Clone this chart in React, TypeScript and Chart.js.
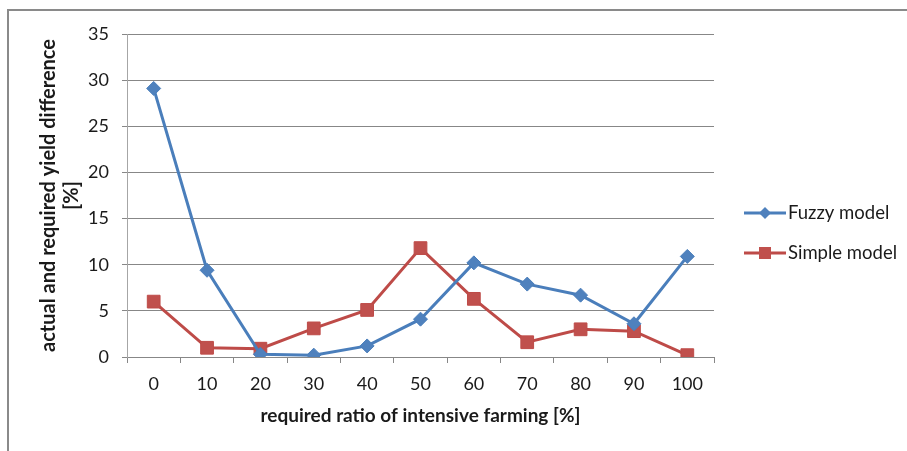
import { useEffect, useRef } from "react";
import { Chart, registerables } from "chart.js";

Chart.register(...registerables);

const categories = ["0", "10", "20", "30", "40", "50", "60", "70", "80", "90", "100"];
const fuzzyModel = [29.1, 9.4, 0.3, 0.2, 1.2, 4.1, 10.2, 7.9, 6.7, 3.6, 10.9];
const simpleModel = [6.0, 1.0, 0.9, 3.1, 5.1, 11.8, 6.3, 1.6, 3.0, 2.8, 0.2];
const seriesNames = ["Fuzzy model", "Simple model"];
const yMin = 0;
const yMax = 35;
const yStep = 5;
const xTitle = "required ratio of intensive farming [%]";
const yTitle = ["actual and required yield difference", "[%]"];

const BLUE_LINE = "#4A7EBB";
const BLUE_FILL = "#4F81BD";
const RED_LINE = "#BE4B48";
const RED_FILL = "#C0504D";
const GRID = "#878787";
const FONT = "Lato, 'Open Sans', sans-serif";

const legendPlugin = {
  id: "sideLegend",
  afterDraw(chart: any) {
    const { ctx, chartArea } = chart;
    const x0 = chartArea.right + 30;
    const items = chart.data.datasets;
    ctx.save();
    items.forEach((ds: any, i: number) => {
      const y = 213 + i * 40;
      ctx.strokeStyle = ds.borderColor;
      ctx.lineWidth = 3;
      ctx.beginPath();
      ctx.moveTo(x0, y);
      ctx.lineTo(x0 + 42, y);
      ctx.stroke();
      ctx.fillStyle = ds.pointBackgroundColor;
      const cx = x0 + 21;
      if (ds.pointStyle === "rectRot") {
        const r = 6;
        ctx.beginPath();
        ctx.moveTo(cx - r, y);
        ctx.lineTo(cx, y - r);
        ctx.lineTo(cx + r, y);
        ctx.lineTo(cx, y + r);
        ctx.closePath();
        ctx.fill();
      } else {
        const s = 12;
        ctx.fillRect(cx - s / 2, y - s / 2, s, s);
      }
      ctx.fillStyle = "#1a1a1a";
      ctx.font = `18.5px ${FONT}`;
      ctx.textBaseline = "middle";
      ctx.textAlign = "left";
      ctx.fillText(ds.label, x0 + 44, y);
    });
    ctx.restore();
  },
};

export default function App() {
  const ref = useRef<HTMLCanvasElement | null>(null);

  useEffect(() => {
    if (!ref.current) return;
    const chart = new Chart(ref.current, {
      type: "line",
      data: {
        labels: categories,
        datasets: [
          {
            label: seriesNames[0],
            data: fuzzyModel,
            borderColor: BLUE_LINE,
            backgroundColor: BLUE_FILL,
            pointBackgroundColor: BLUE_FILL,
            pointBorderColor: BLUE_LINE,
            pointBorderWidth: 1,
            pointStyle: "rectRot",
            pointRadius: 7,
            borderWidth: 3,
            tension: 0,
          },
          {
            label: seriesNames[1],
            data: simpleModel,
            borderColor: RED_LINE,
            backgroundColor: RED_FILL,
            pointBackgroundColor: RED_FILL,
            pointBorderColor: RED_LINE,
            pointBorderWidth: 1,
            pointStyle: "rect",
            pointRadius: 9,
            borderWidth: 3,
            tension: 0,
          },
        ] as any,
      },
      options: {
        responsive: false,
        animation: false,
        layout: { padding: { top: 34, right: 193, left: 0, bottom: 0 } },
        plugins: {
          legend: { display: false },
          tooltip: { enabled: false },
        },
        scales: {
          x: {
            offset: true,
            grid: {
              display: true,
              drawOnChartArea: false,
              drawTicks: true,
              tickLength: 6,
              offset: true,
              color: GRID,
            },
            border: { display: true, color: GRID },
            ticks: { color: "#1a1a1a", font: { family: FONT, size: 18 }, padding: 10, maxRotation: 0 },
            title: {
              display: true,
              text: xTitle,
              color: "#1a1a1a",
              font: { family: FONT, size: 19, weight: "bold" },
              padding: { top: 0, bottom: 24 },
            },
            afterFit(scale: any) {
              scale.height = 94;
            },
          },
          y: {
            min: yMin,
            max: yMax,
            ticks: {
              stepSize: yStep,
              color: "#1a1a1a",
              font: { family: FONT, size: 18 },
              padding: 13,
            },
            grid: { color: GRID, tickLength: 5, drawTicks: true },
            border: { display: true, color: "#a6a6a6" },
            title: {
              display: true,
              text: yTitle,
              color: "#1a1a1a",
              font: { family: FONT, size: 20, weight: "bold", lineHeight: "23px" },
              padding: { top: 37, bottom: 0 },
            },
            afterFit(scale: any) {
              scale.width = 127;
            },
          },
        },
      },
      plugins: [legendPlugin],
    });
    return () => chart.destroy();
  }, []);

  return (
    <div style={{ position: "absolute", left: 0, top: 0, width: 907, height: 451, background: "#fff", overflow: "hidden" }}>
      <div
        style={{
          position: "absolute",
          left: 7,
          top: 9,
          width: 920,
          height: 460,
          borderTop: "2px solid #8a8a8a",
          borderLeft: "2px solid #8a8a8a",
        }}
      />
      <canvas ref={ref} width={907} height={451} style={{ position: "absolute", left: 0, top: 0 }} />
    </div>
  );
}
